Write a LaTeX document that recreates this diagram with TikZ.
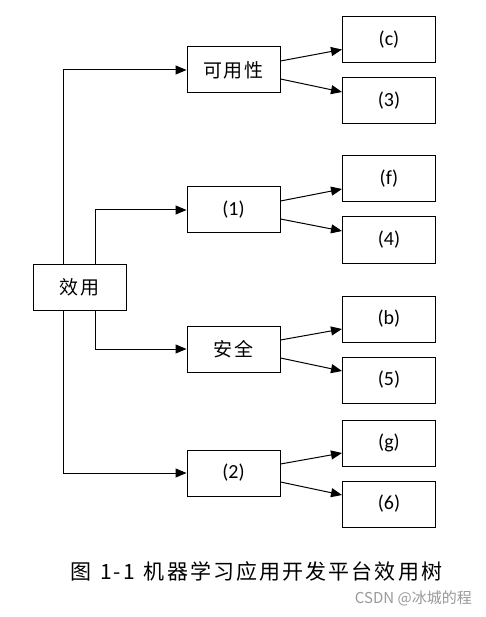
\documentclass[tikz,border=0pt]{standalone}
\usepackage{fontspec}
\setmainfont{Noto Sans CJK SC}
\newfontfamily\capfont[LetterSpace=10]{Noto Sans CJK SC}
\newfontfamily\boxfont[LetterSpace=6]{Noto Sans CJK SC}
\newfontfamily\latfont{Carlito}
\usetikzlibrary{arrows.meta}
\begin{document}
\begin{tikzpicture}[x=1pt,y=-1pt,
  box/.style={draw,line width=1pt,minimum width=93pt,minimum height=46pt,inner sep=0pt,font=\fontsize{19}{22}\selectfont\boxfont},
  lbox/.style={box,font=\fontsize{20}{24}\selectfont\latfont},
  conn/.style={line width=1pt,-{Triangle[length=11pt,width=9pt]}}]
\useasboundingbox[fill=white] (0,0) rectangle (486,617);
\node[box] (root) at (79.5,287) {效用};
\node[box] (m1) at (233.5,70) {可用性};
\node[lbox] (m2) at (233.5,210) {(1)};
\node[box] (m3) at (233.5,349) {安全};
\node[lbox] (m4) at (233.5,473) {(2)};
\node[lbox] (r1) at (389,39.5) {(c)};
\node[lbox] (r2) at (389,101) {(3)};
\node[lbox] (r3) at (389,179) {(f)};
\node[lbox] (r4) at (389,240) {(4)};
\node[lbox] (r5) at (389,319) {(b)};
\node[lbox] (r6) at (389,380) {(5)};
\node[lbox] (r7) at (389,443) {(g)};
\node[lbox] (r8) at (389,504) {(6)};
\draw[conn] ([xshift=-16pt]root.north) |- (m1.west);
\draw[conn] ([xshift=15.5pt]root.north) |- (m2.west);
\draw[conn] ([xshift=15.5pt]root.south) |- (m3.west);
\draw[conn] ([xshift=-16pt]root.south) |- (m4.west);
\foreach \m/\a/\b in {m1/r1/r2,m2/r3/r4,m3/r5/r6,m4/r7/r8}{
  \draw[conn] ([yshift=9pt]\m.east) -- ([yshift=-10pt]\a.west);
  \draw[conn] ([yshift=-9pt]\m.east) -- ([yshift=9pt]\b.west);
}
\node[font=\fontsize{21}{25}\selectfont\capfont,anchor=west,inner sep=0pt] (cap) at (70,571) {图\hspace{9pt}1-1\hspace{9pt}机器学习应用开发平台效用树};
\node[font=\fontsize{15}{17}\selectfont,text=black!40,anchor=east,inner sep=0pt] (wm) at (472,598) {CSDN @冰城的程};
\end{tikzpicture}
\end{document}
